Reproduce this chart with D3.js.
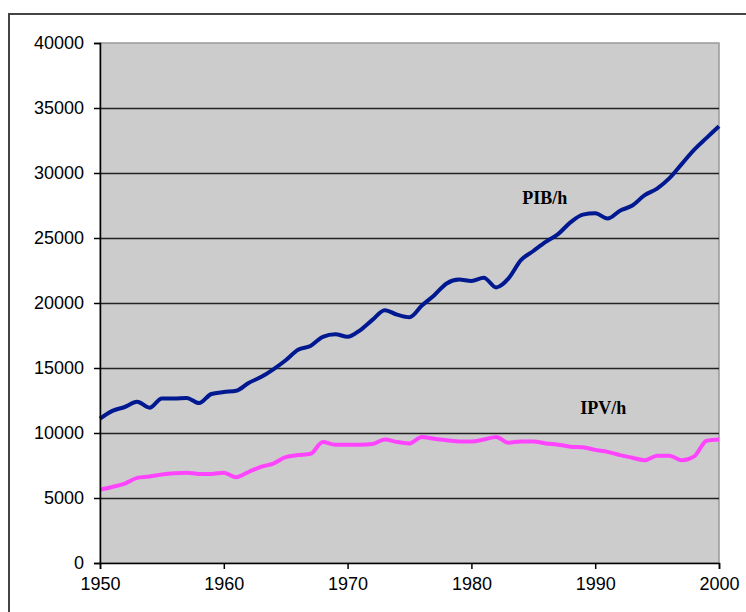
<!DOCTYPE html>
<html>
<head>
<meta charset="utf-8">
<script src="https://cdn.jsdelivr.net/npm/d3@7"></script>
<style>
  body { margin: 0; background: #fff; }
  svg { display: block; }
  .axis text { font-family: "Liberation Sans", Arial, sans-serif; font-size: 18px; fill: #000; }
  .lbl { font-family: "Liberation Serif", "Times New Roman", serif; font-weight: bold; font-size: 18px; fill: #000; }
</style>
</head>
<body>
<div id="chart"></div>
<script>
var years = d3.range(1950, 2001);

var pibH = [11100, 11700, 12000, 12400, 11950, 12650, 12650, 12700, 12300, 13000,
            13150, 13250, 13850, 14300, 14900, 15600, 16400, 16700, 17400, 17600,
            17400, 17900, 18700, 19450, 19100, 18900, 19800, 20600, 21500, 21800,
            21700, 21950, 21200, 21900, 23300, 24000, 24700, 25300, 26200, 26800,
            26900, 26500, 27100, 27500, 28300, 28800, 29600, 30700, 31800, 32700,
            33600];

var ipvH = [5650, 5850, 6100, 6550, 6650, 6800, 6900, 6950, 6850, 6850,
            6950, 6600, 7000, 7400, 7650, 8150, 8300, 8400, 9300, 9100,
            9100, 9100, 9150, 9500, 9300, 9200, 9700, 9550, 9450, 9350,
            9350, 9500, 9700, 9250, 9350, 9350, 9200, 9100, 8950, 8900,
            8700, 8550, 8300, 8100, 7900, 8250, 8250, 7900, 8200, 9400,
            9500];

var xTicks = [1950, 1960, 1970, 1980, 1990, 2000];
var yTicks = [0, 5000, 10000, 15000, 20000, 25000, 30000, 35000, 40000];

var W = 746, H = 612;
var margin = { top: 43, right: 27, bottom: 49, left: 100 };
var width = W - margin.left - margin.right;
var height = H - margin.top - margin.bottom;

var svg = d3.select("#chart").append("svg")
    .attr("width", W)
    .attr("height", H);

// outer chart frame (runs off the page on right and bottom)
svg.append("rect")
    .attr("x", 9)
    .attr("y", 14)
    .attr("width", 760)
    .attr("height", 620)
    .attr("fill", "none")
    .attr("stroke", "#444")
    .attr("stroke-width", 2);

var g = svg.append("g")
    .attr("transform", "translate(" + margin.left + "," + margin.top + ")");

var x = d3.scaleLinear().domain([1950, 2000]).range([0, width]);
var y = d3.scaleLinear().domain([0, 40000]).range([height, 0]);

g.append("rect")
    .attr("width", width)
    .attr("height", height)
    .attr("fill", "#cccccc")
    .attr("stroke", "#999")
    .attr("stroke-width", 1.5);

// gridlines
g.append("g")
    .selectAll("line")
    .data(yTicks.filter(function(d) { return d > 0 && d < 40000; }))
    .enter().append("line")
    .attr("x1", 0)
    .attr("x2", width)
    .attr("y1", function(d) { return Math.round(y(d)) + 0.5; })
    .attr("y2", function(d) { return Math.round(y(d)) + 0.5; })
    .attr("stroke", "#222")
    .attr("stroke-width", 1.5);

var line = d3.line()
    .x(function(d, i) { return x(years[i]); })
    .y(function(d) { return y(d); })
    .curve(d3.curveMonotoneX);

g.append("path")
    .datum(ipvH)
    .attr("d", line)
    .attr("fill", "none")
    .attr("stroke", "#ff44ff")
    .attr("stroke-width", 4)
    .attr("stroke-linejoin", "round");

g.append("path")
    .datum(pibH)
    .attr("d", line)
    .attr("fill", "none")
    .attr("stroke", "#001890")
    .attr("stroke-width", 4)
    .attr("stroke-linejoin", "round");

// axes
g.append("g")
    .attr("class", "axis")
    .call(d3.axisLeft(y).tickValues(yTicks).tickSize(6).tickPadding(10).tickFormat(d3.format("d")));

g.append("g")
    .attr("class", "axis")
    .attr("transform", "translate(0," + height + ")")
    .call(d3.axisBottom(x).tickValues(xTicks).tickSize(6).tickPadding(8).tickFormat(d3.format("d")));

g.selectAll(".axis path").attr("stroke", "#000").attr("stroke-width", 1.5);
g.selectAll(".axis line").attr("stroke", "#000").attr("stroke-width", 1.5);

// series labels
g.append("text")
    .attr("class", "lbl")
    .attr("x", x(1984.1))
    .attr("y", y(27600))
    .text("PIB/h");

g.append("text")
    .attr("class", "lbl")
    .attr("x", x(1988.8))
    .attr("y", y(11450))
    .text("IPV/h");
</script>
</body>
</html>
